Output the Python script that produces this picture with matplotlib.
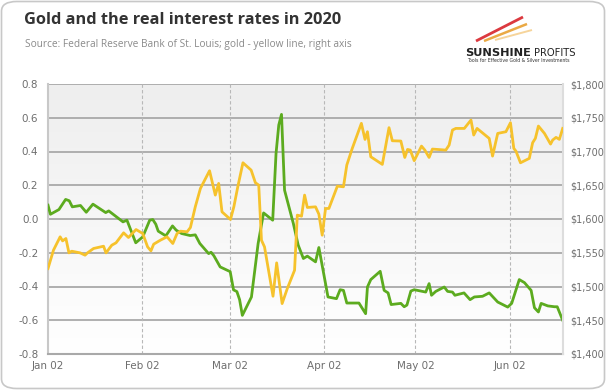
import numpy as np
import pandas as pd
import matplotlib
matplotlib.use("Agg")
import matplotlib.pyplot as plt
from matplotlib.patches import FancyBboxPatch
from matplotlib.text import Annotation
from matplotlib.colors import LinearSegmentedColormap
from matplotlib.ticker import FuncFormatter, MultipleLocator

# ---- data (days since 2020-01-02) ----
rate_days = [0, 0.8, 3.6, 5.8, 7, 8, 10.7, 12.6, 14.8, 19, 20, 24.7, 26, 28.9, 31.2, 33.5, 34.5,
             35.5, 36.3, 38.8, 41, 42.2, 44, 46.8, 48.5, 50, 52.9, 53.7, 54.6, 56.7, 60, 61.1,
             62.2, 63.1, 64, 67, 68.1, 69.2, 71, 74, 75.1, 76, 76.9, 77.9, 80.8, 82.4, 84.1,
             85.4, 88.1, 89.2, 91.4, 92.2, 95, 96.2, 97.3, 98.4, 102.4, 104.6, 105.2, 106.3,
             109.4, 110.7, 112, 113, 116.2, 117.3, 118.2, 119.5, 120.6, 124.4, 125.5, 126.3,
             127.7, 130.5, 131.6, 133.2, 134, 137, 139, 140.4, 143.1, 145.3, 148.1, 151.4,
             152.7, 155.2, 156.9, 159.1, 160.2, 161.5, 162.4, 164.6, 166.8, 167.7, 169.5]
rate_vals = [0.082, 0.028, 0.056, 0.116, 0.108, 0.072, 0.08, 0.04, 0.088, 0.038, 0.048, -0.017,
             -0.007, -0.141, -0.106, -0.007, -0.003, -0.031, -0.072, -0.10, -0.041, -0.066,
             -0.086, -0.098, -0.094, -0.145, -0.205, -0.197, -0.217, -0.284, -0.312, -0.42,
             -0.43, -0.478, -0.571, -0.462, -0.304, -0.145, 0.036, -0.007, 0.389, 0.557, 0.62,
             0.171, -0.027, -0.155, -0.234, -0.22, -0.254, -0.169, -0.383, -0.462, -0.472,
             -0.419, -0.423, -0.498, -0.498, -0.561, -0.403, -0.359, -0.31, -0.423, -0.438,
             -0.507, -0.50, -0.52, -0.51, -0.427, -0.419, -0.433, -0.383, -0.452, -0.429,
             -0.403, -0.429, -0.433, -0.452, -0.438, -0.478, -0.462, -0.458, -0.438, -0.492,
             -0.522, -0.50, -0.359, -0.377, -0.423, -0.526, -0.551, -0.50, -0.515, -0.52,
             -0.52, -0.60]

gold_days = [0, 1.8, 4, 4.8, 5.9, 6.9, 7.8, 10.6, 12.2, 13, 15, 18.3, 19.1, 21, 22.4, 24.9,
             26.5, 29, 31.2, 32.8, 33.9, 34.8, 37, 39.2, 41.1, 42.5, 43.6, 45.8, 46.9, 48.5,
             50.2, 53.2, 55.1, 56.2, 57.3, 60.1, 61.2, 62.5, 64.2, 66.9, 68.3, 69.4, 70.3,
             71.3, 74.1, 75.3, 77.1, 78.8, 81.2, 82.1, 83.5, 84.5, 85.4, 88.1, 89.2, 90.3,
             91.4, 92.5, 95.3, 97.3, 98.4, 100.2, 103.2, 104.4, 105.2, 106.3, 110.1, 112.3,
             113.4, 116.2, 117.5, 118.4, 119.3, 120.6, 123, 124.1, 125.5, 126.6, 131, 132.1,
             133.2, 134.3, 137.1, 139.3, 140.2, 141.3, 145.3, 146.4, 148.1, 150.8, 152.3,
             153.4, 154.1, 155.6, 158.5, 159.6, 160.5, 161.5, 163.5, 165.5, 166.2, 167.3,
             168.4, 169.5]
gold_vals = [1526.6, 1553.8, 1573.6, 1567.6, 1571.1, 1549.8, 1552.3, 1549.8, 1546.4, 1549.8,
             1556.3, 1559.7, 1549.8, 1561.2, 1564.7, 1579.5, 1572.6, 1584.4, 1578.5, 1558.7,
             1552.8, 1562.7, 1568.6, 1573.6, 1563.7, 1578.5, 1582.0, 1581.0, 1587.4, 1618.0,
             1645.3, 1671.5, 1635.4, 1652.7, 1610.6, 1599.3, 1618.0, 1647.7, 1683.3, 1672.4,
             1653.7, 1650.2, 1568.6, 1558.7, 1485.6, 1535.0, 1474.7, 1496.9, 1524.1, 1605.7,
             1604.2, 1635.4, 1617.1, 1618.0, 1607.2, 1576.0, 1615.6, 1615.6, 1648.7, 1647.7,
             1679.9, 1704.6, 1741.7, 1717.9, 1729.3, 1692.2, 1680.9, 1735.3, 1715.9, 1715.5,
             1691.2, 1703.1, 1702.1, 1686.4, 1708.0, 1702.1, 1691.2, 1703.6, 1702.1, 1709.5,
             1731.8, 1734.2, 1734.2, 1746.6, 1724.4, 1734.2, 1719.4, 1693.2, 1726.8, 1729.3,
             1742.6, 1704.6, 1700.6, 1683.3, 1689.8, 1713.0, 1719.4, 1737.7, 1726.8, 1711.0,
             1717.0, 1720.9, 1718.0, 1734.2]

x_tick_labels = ["Jan 02", "Feb 02", "Mar 02", "Apr 02", "May 02", "Jun 02"]
title = "Gold and the real interest rates in 2020"
subtitle = "Source: Federal Reserve Bank of St. Louis; gold - yellow line, right axis"

base = pd.Timestamp("2020-01-02")
rate_dates = base + pd.to_timedelta(rate_days, unit="D")
gold_dates = base + pd.to_timedelta(gold_days, unit="D")
tick_dates = [pd.Timestamp(f"2020-{m:02d}-02") for m in range(1, 7)]

GREEN = "#5cab1f"
GOLD = "#f6c22c"
GRID = "#a9a9a9"
TXT = "#6e6e6e"

W, H = 606, 390
fig = plt.figure(figsize=(W / 100, H / 100), dpi=100)
fig.patch.set_facecolor("white")

# outer rounded frame
frame = FancyBboxPatch((1.5 / W, 1.5 / H), (W - 3) / W, (H - 3) / H,
                       boxstyle="round,pad=0,rounding_size=0.025",
                       transform=fig.transFigure, facecolor="none",
                       edgecolor="#c8c8c8", linewidth=1.2, zorder=-5)
fig.add_artist(frame)

L, R, T, B = 48, 563, 84, 354
ax = fig.add_axes([L / W, 1 - B / H, (R - L) / W, (B - T) / H])
ax.set_facecolor("none")

# gradient background
grad = np.linspace(0, 1, 256).reshape(-1, 1)
cmap = LinearSegmentedColormap.from_list("bg", ["#eeeeee", "#ffffff"])
ax.imshow(grad, extent=[0, 1, 0, 1], transform=ax.transAxes, cmap=cmap,
          aspect="auto", zorder=-10, origin="upper")

ax.set_ylim(-0.8, 0.8)
ax.yaxis.set_major_locator(MultipleLocator(0.2))
ax.yaxis.set_major_formatter(FuncFormatter(lambda v, p: f"{v:.1f}"))
xmin, xmax = base, base + pd.Timedelta(days=169.6)
ax.set_xlim(xmin, xmax)

for y in np.arange(-0.6, 0.81, 0.2):
    ax.axhline(y, color=GRID, lw=1.3, zorder=1)
for d in tick_dates[1:]:
    ax.axvline(d, color="#b8b8b8", lw=0.8, ls=(0, (3, 2)), zorder=1)

ax.plot(rate_dates, rate_vals, color=GREEN, lw=2.0, zorder=3, solid_joinstyle="round")

ax.set_xticks(tick_dates)
ax.set_xticklabels(x_tick_labels)
for s in ["top", "right"]:
    ax.spines[s].set_visible(False)
ax.spines["left"].set_color("#c8c8c8")
ax.spines["left"].set_linewidth(1.5)
ax.spines["bottom"].set_color(GRID)
ax.spines["bottom"].set_linewidth(1.5)
ax.tick_params(axis="both", colors=TXT, labelsize=7.5, length=0)
ax.tick_params(axis="y", pad=7)
ax.tick_params(axis="x", pad=5)

ax2 = ax.twinx()
ax2.set_ylim(1400, 1800)
ax2.yaxis.set_major_locator(MultipleLocator(50))
ax2.yaxis.set_major_formatter(FuncFormatter(lambda v, p: f"${v:,.0f}"))
ax2.plot(gold_dates, gold_vals, color=GOLD, lw=2.0, zorder=3, solid_joinstyle="round")
for s in ["top", "left", "bottom"]:
    ax2.spines[s].set_visible(False)
ax2.spines["right"].set_color("#dddddd")
ax2.spines["right"].set_linewidth(1.5)
ax2.tick_params(axis="y", colors=TXT, labelsize=7.0, length=0, pad=5)
ax2.set_xlim(xmin, xmax)

# titles
fig.text(24 / W, 1 - 20 / H, title, fontsize=11.8, fontweight="bold",
         color="#333333", va="center", ha="left", family="Open Sans")
fig.text(25 / W, 1 - 45 / H, subtitle, fontsize=7.3, color="#8a8a8a",
         va="center", ha="left", family="Open Sans")

# logo
for (x0, y0, x1, y1, c, lw) in [(476, 41, 523, 17, "#d8232a", 2.0),
                                 (484, 41, 527, 24, "#e8a030", 1.8),
                                 (495, 40, 532, 30, "#f5d090", 1.4)]:
    fig.add_artist(plt.Line2D([x0 / W, x1 / W], [1 - y0 / H, 1 - y1 / H],
                              color=c, lw=lw, alpha=0.9, solid_capstyle="butt"))
t1 = fig.text(465 / W, 1 - 53 / H, "SUNSHINE", fontsize=8.2, fontweight="bold",
              color="#222222", va="center", ha="left", family="DejaVu Sans")
fig.add_artist(Annotation("PROFITS", xy=(1, 0.5), xycoords=t1, xytext=(2, 0),
                          textcoords="offset points", va="center", ha="left",
                          fontsize=7.2, color="#222222", family="DejaVu Sans"))
fig.text(467 / W, 1 - 61 / H, "Tools for Effective Gold & Silver Investments",
         fontsize=3.3, color="#333333", va="center", ha="left")

fig.savefig("out.png", dpi=100, facecolor="white")
